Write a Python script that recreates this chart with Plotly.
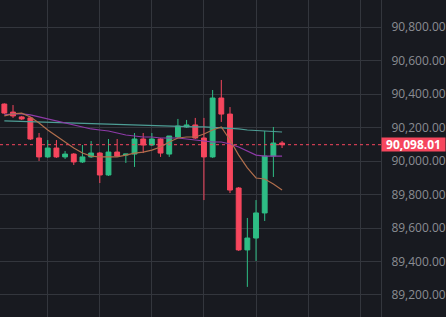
import plotly.graph_objects as go

# candle index positions
idx = list(range(33))
opens = [90341, 90293, 90264, 90258, 90138, 90025, 90078, 90025, 90042, 89995,
         90025, 90048, 89917, 90054, 90036, 90042, 90132, 90096, 90132, 90042,
         90144, 90204, 90216, 90138, 90025, 90377, 90281, 89839, 89469, 89540,
         89690, 90030, 90108]
highs = [90345, 90335, 90270, 90264, 90168, 90126, 90126, 90060, 90048, 90096,
         90120, 90054, 90132, 90132, 90042, 90168, 90168, 90168, 90138, 90150,
         90252, 90246, 90258, 90258, 90425, 90485, 90323, 89845, 89660, 89767,
         90180, 90204, 90120]
lows = [90281, 90258, 90246, 90126, 90001, 90019, 90019, 90013, 89977, 89989,
        90019, 89869, 89911, 90025, 89989, 89965, 90048, 90090, 90025, 90025,
        90138, 90198, 90132, 89767, 90019, 90234, 89809, 89463, 89248, 89403,
        89642, 89905, 90078]
closes = [90287, 90270, 90252, 90132, 90025, 90078, 90025, 90042, 89995, 90025,
          90048, 89917, 90054, 90030, 90042, 90132, 90096, 90132, 90048, 90150,
          90210, 90216, 90138, 90025, 90377, 90281, 89827, 89469, 89540, 89690,
          90030, 90108, 90098.01]

ma7 = [90270, 90282, 90287, 90264, 90228, 90186, 90150, 90114, 90078, 90048,
       90030, 90025, 90025, 90025, 90036, 90048, 90054, 90066, 90084, 90114,
       90138, 90144, 90144, 90162, 90186, 90204, 90126, 90036, 89959, 89899,
       89893, 89863, 89827]
ma25 = [90276, 90282, 90282, 90276, 90264, 90252, 90240, 90228, 90216, 90204,
        90192, 90186, 90180, 90168, 90156, 90150, 90144, 90144, 90138, 90138,
        90138, 90132, 90126, 90120, 90114, 90114, 90102, 90084, 90060, 90036,
        90030, 90030, 90030]
ma99 = [90240, 90238, 90237, 90235, 90234, 90232, 90230, 90229, 90227, 90226,
        90224, 90222, 90221, 90219, 90218, 90216, 90214, 90213, 90211, 90210,
        90208, 90207, 90205, 90204, 90202, 90200, 90198, 90192, 90186, 90183,
        90180, 90177, 90174]

last_price = 90098.01
ytick_vals = [89200, 89400, 89600, 89800, 90000, 90200, 90400, 90600, 90800]
ytick_text = ["89,200.00", "89,400.00", "89,600.00", "89,800.00", "90,000.00",
              "90,200.00", "90,400.00", "90,600.00", "90,800.00"]
xgrid_vals = [5, 11, 17, 23, 29, 35, 41]

GREEN = "#2EBD85"
RED = "#F6465D"
BG = "#181A20"
GRID = "#33363D"

fig = go.Figure()
fig.add_trace(go.Scatter(x=idx, y=ma99, mode="lines", line=dict(color="#4E9E96", width=1.2),
                         hoverinfo="skip", showlegend=False))
fig.add_trace(go.Scatter(x=idx, y=ma25, mode="lines", line=dict(color="#8E3AA8", width=1.2),
                         hoverinfo="skip", showlegend=False))
fig.add_trace(go.Scatter(x=idx, y=ma7, mode="lines", line=dict(color="#B06E4C", width=1.2),
                         hoverinfo="skip", showlegend=False))
fig.add_trace(go.Candlestick(
    x=idx, open=opens, high=highs, low=lows, close=closes,
    increasing=dict(line=dict(color=GREEN, width=1), fillcolor=GREEN),
    decreasing=dict(line=dict(color=RED, width=1), fillcolor=RED),
    showlegend=False,
))

fig.add_hline(y=last_price, line=dict(color=RED, width=1, dash="dot"))

fig.add_annotation(x=1, xref="paper", xanchor="left", y=last_price, yref="y",
                   text="<b>90,098.01</b>", showarrow=False,
                   font=dict(color="white", size=12, family="Open Sans"),
                   bgcolor=RED, width=63, height=13, borderpad=0, align="center")

fig.update_layout(
    width=446, height=317,
    margin=dict(l=0, r=63, t=0, b=0),
    paper_bgcolor=BG, plot_bgcolor=BG,
    boxgap=0.2,
    font=dict(family="Open Sans", color="#8A8D93", size=12),
    xaxis=dict(range=[-0.5, 43.4], tickvals=xgrid_vals, showticklabels=False,
               showgrid=True, gridcolor=GRID, gridwidth=1, zeroline=False,
               rangeslider=dict(visible=False), fixedrange=True),
    yaxis=dict(range=[89068, 90963], side="right", tickvals=ytick_vals, ticktext=ytick_text,
               showgrid=True, gridcolor=GRID, gridwidth=1, zeroline=False,
               showline=True, linecolor=GRID, linewidth=1,
               ticks="", ticklabelstandoff=7, fixedrange=True),
)

fig.write_html("out.html")
